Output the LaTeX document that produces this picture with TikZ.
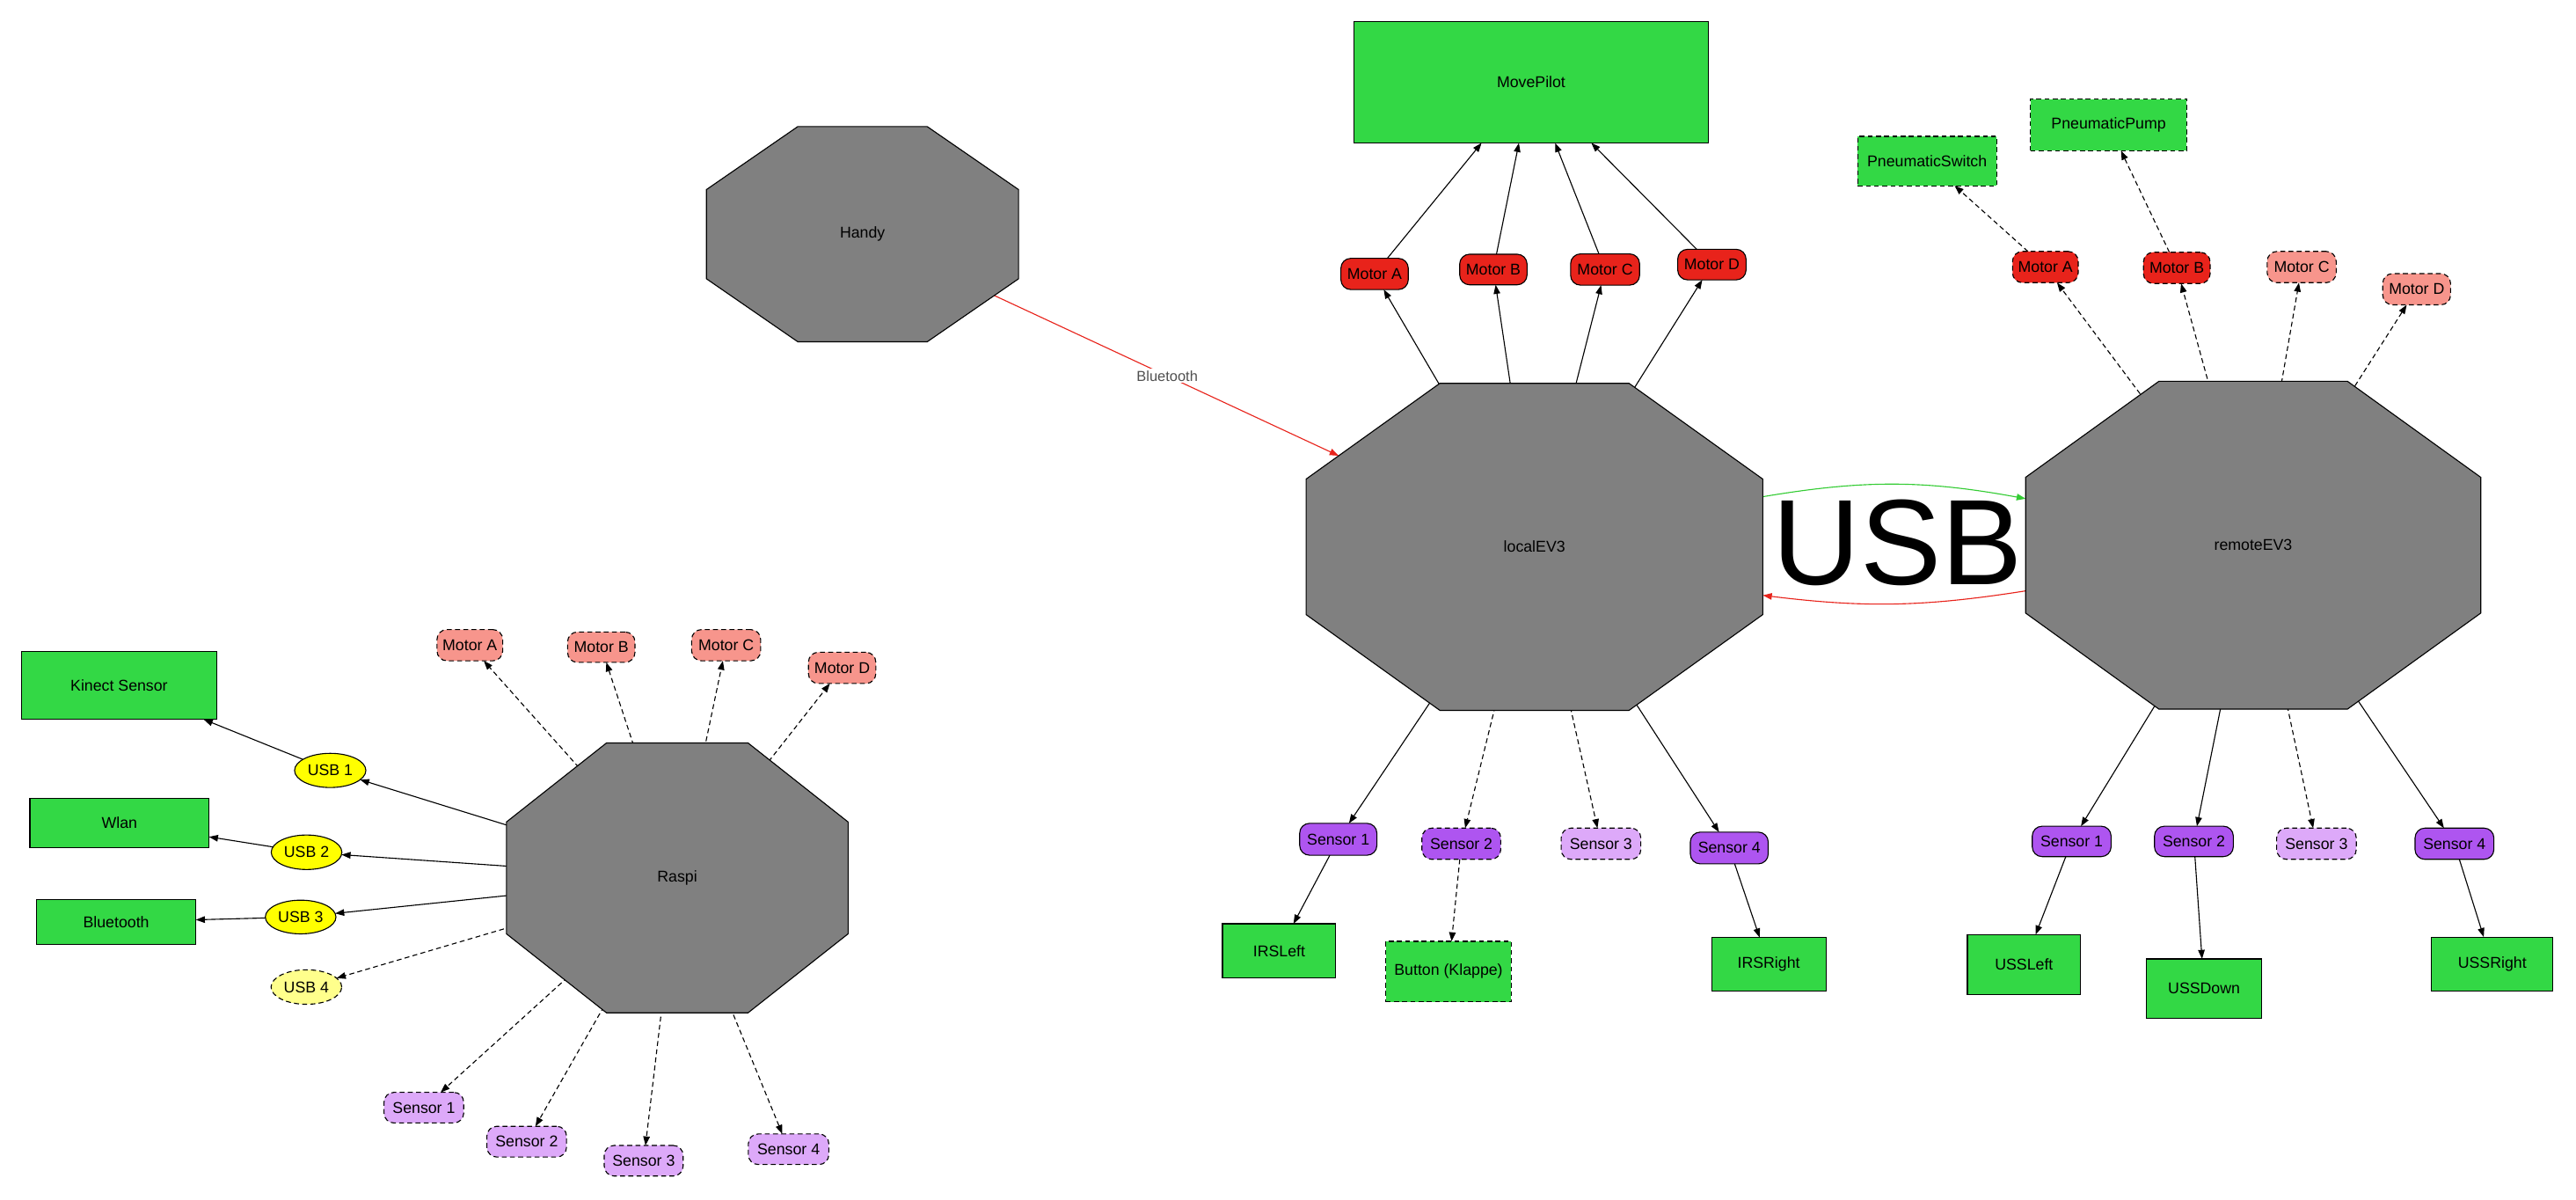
\documentclass[tikz,border=0pt]{standalone}
\usepackage{fontspec}
\setmainfont{Liberation Sans}
\usetikzlibrary{arrows.meta,calc,shapes.geometric}
\definecolor{ngreen}{HTML}{33D845}
\definecolor{nred}{HTML}{E8231B}
\definecolor{nsalmon}{HTML}{F7958C}
\definecolor{npurple}{HTML}{AE55F0}
\definecolor{nlpurple}{HTML}{DDA9F9}
\definecolor{nyellow}{HTML}{FFFF00}
\definecolor{nlyellow}{HTML}{FFFF8C}
\definecolor{octgray}{HTML}{808080}
\definecolor{usbgreen}{HTML}{33CC33}
\definecolor{lblgray}{HTML}{505050}
\pgfdeclarelayer{bglayer}
\pgfdeclarelayer{edgelayer}
\pgfdeclarelayer{octlayer}
\pgfsetlayers{bglayer,edgelayer,octlayer,main}
\newcommand\octshape[1]{%
  \coordinate (#1-t1) at ($(#1.north west)!0.2929!(#1.north east)$);
  \coordinate (#1-t2) at ($(#1.north east)!0.2929!(#1.north west)$);
  \coordinate (#1-r1) at ($(#1.north east)!0.2929!(#1.south east)$);
  \coordinate (#1-r2) at ($(#1.south east)!0.2929!(#1.north east)$);
  \coordinate (#1-b2) at ($(#1.south east)!0.2929!(#1.south west)$);
  \coordinate (#1-b1) at ($(#1.south west)!0.2929!(#1.south east)$);
  \coordinate (#1-l2) at ($(#1.south west)!0.2929!(#1.north west)$);
  \coordinate (#1-l1) at ($(#1.north west)!0.2929!(#1.south west)$);
  \begin{pgfonlayer}{octlayer}
  \fill[octgray, draw=black, line width=0.6pt, line join=miter] (#1-t1) -- (#1-t2) -- (#1-r1) -- (#1-r2) -- (#1-b2) -- (#1-b1) -- (#1-l2) -- (#1-l1) -- cycle;
  \end{pgfonlayer}}
\tikzset{
  base/.style={draw=black, line width=0.6pt, inner sep=0pt, outer sep=0pt, align=center},
  dashpat/.style={dash pattern=on 3pt off 2pt},
  sz/.style 2 args={minimum width=#1pt, minimum height=#2pt},
  gbox/.style={base, rectangle, fill=ngreen},
  gboxd/.style={gbox, dashpat},
  pill/.style={base, rectangle, rounded corners=6pt},
  mred/.style={pill, fill=nred},
  mredd/.style={pill, fill=nred, dashpat},
  msal/.style={pill, fill=nsalmon, dashpat},
  spur/.style={pill, fill=npurple},
  spurd/.style={pill, fill=npurple, dashpat},
  slpur/.style={pill, fill=nlpurple, dashpat},
  usbe/.style={base, ellipse, fill=nyellow},
  usbed/.style={base, ellipse, fill=nlyellow, dashpat},
  octnode/.style={rectangle, inner sep=0pt, outer sep=0pt},
  edge/.style={line width=0.6pt, -{Triangle[length=5.5pt,width=4pt]}},
  dedge/.style={edge, dashpat},
}
\begin{document}
\begin{tikzpicture}[x=1pt, y=-1pt, font=\fontsize{9.5}{11}\selectfont]
\useasboundingbox (0,0) rectangle (1568,730);
\begin{pgfonlayer}{bglayer}
\fill[white] (0,0) rectangle (1568,730);
\end{pgfonlayer}

% ---------------- octagon nodes
\node[octnode, sz={208}{164.2}] (raspi) at (412.25,534.2) {Raspi};
\node[octnode, sz={190}{131}] (handy) at (525,142.5) {Handy};
\node[octnode, sz={278}{199}] (localev3) at (934,332.75) {localEV3};
\node[octnode, sz={277}{199.5}] (remotev3) at (1371.5,331.75) {remoteEV3};
\octshape{raspi}
\octshape{handy}
\octshape{localev3}
\octshape{remotev3}

% ---------------- left cluster
\node[gbox, sz={119}{41.5}] (kinect) at (72.5,417) {Kinect Sensor};
\node[gbox, sz={109}{30}] (wlan) at (72.7,500.6) {Wlan};
\node[gbox, sz={97}{27.5}] (bluetooth) at (70.7,561) {Bluetooth};
\node[usbe, sz={43.4}{20.8}] (usb1) at (201,468.8) {USB 1};
\node[usbe, sz={43}{21}] (usb2) at (186.6,518.6) {USB 2};
\node[usbe, sz={43}{20.5}] (usb3) at (183,558) {USB 3};
\node[usbed, sz={43}{21}] (usb4) at (186.5,600.6) {USB 4};
\node[msal, sz={40}{19}] (rmA) at (286,392.6) {Motor A};
\node[msal, sz={41}{18.5}] (rmB) at (366,393.8) {Motor B};
\node[msal, sz={42}{19}] (rmC) at (442,392.6) {Motor C};
\node[msal, sz={41}{19}] (rmD) at (512.6,406.4) {Motor D};
\node[slpur, sz={48.5}{18.6}] (rs1) at (258,674) {Sensor 1};
\node[slpur, sz={48.5}{18.7}] (rs2) at (320.6,694.7) {Sensor 2};
\node[slpur, sz={48}{18.6}] (rs3) at (391.8,706.3) {Sensor 3};
\node[slpur, sz={49}{18.6}] (rs4) at (480,699.3) {Sensor 4};

% ---------------- localEV3 cluster
\node[gbox, sz={216}{74}] (movepilot) at (932,50) {MovePilot};
\node[mred, sz={41}{19}] (lmA) at (836.7,166.7) {Motor A};
\node[mred, sz={41}{18.6}] (lmB) at (909,164) {Motor B};
\node[mred, sz={42}{19}] (lmC) at (977,164) {Motor C};
\node[mred, sz={41.6}{18.6}] (lmD) at (1042,161) {Motor D};
\node[spur, sz={47}{19.4}] (ls1) at (814.6,510.7) {Sensor 1};
\node[spurd, sz={48}{19}] (ls2) at (889.5,513.4) {Sensor 2};
\node[slpur, sz={48.5}{19}] (ls3) at (974.5,513.4) {Sensor 3};
\node[spur, sz={47.4}{19.3}] (ls4) at (1052.6,516) {Sensor 4};
\node[gbox, sz={69}{33}] (irsleft) at (778.6,578.6) {IRSLeft};
\node[gboxd, sz={76.5}{36.8}] (button) at (881.7,591.2) {Button (Klappe)};
\node[gbox, sz={69.6}{32.7}] (irsright) at (1076.6,586.8) {IRSRight};

% ---------------- remoteEV3 cluster
\node[gboxd, sz={84.6}{30}] (pswitch) at (1173,98) {PneumaticSwitch};
\node[gboxd, sz={95}{31.5}] (ppump) at (1283.5,76) {PneumaticPump};
\node[mredd, sz={40}{19}] (qmA) at (1245,162.5) {Motor A};
\node[mredd, sz={40.6}{19}] (qmB) at (1325,163) {Motor B};
\node[msal, sz={42}{19}] (qmC) at (1401,162.5) {Motor C};
\node[msal, sz={41.3}{19}] (qmD) at (1471,176) {Motor D};
\node[spur, sz={48}{18.5}] (qs1) at (1261,512) {Sensor 1};
\node[spur, sz={48}{18.5}] (qs2) at (1335.4,512) {Sensor 2};
\node[slpur, sz={48.5}{19}] (qs3) at (1410,513.4) {Sensor 3};
\node[spur, sz={48}{19}] (qs4) at (1494,513.4) {Sensor 4};
\node[gbox, sz={69}{36.6}] (ussleft) at (1232,587) {USSLeft};
\node[gbox, sz={70}{36}] (ussdown) at (1341.6,601.5) {USSDown};
\node[gbox, sz={73.8}{33}] (ussright) at (1517,586.7) {USSRight};

% ---------------- big label
\node[inner sep=0pt, font=\fontsize{74}{80}\selectfont] (usbtext) at (1155,330) {USB};

% ---------------- connectors
\coordinate (btend) at (intersection of handy.center--localev3.center and localev3-l1--localev3-t1);
\begin{pgfonlayer}{edgelayer}
% left
\draw[edge] (raspi.center) -- (usb1);
\draw[edge] (usb1) -- (kinect);
\draw[edge] (raspi.center) -- (usb2);
\draw[edge] (usb2) -- (wlan);
\draw[edge] (raspi.center) -- (usb3);
\draw[edge] (usb3) -- (bluetooth);
\draw[dedge] (raspi.center) -- (usb4);
\draw[dedge] (raspi.center) -- (rmA);
\draw[dedge] (raspi.center) -- (rmB);
\draw[dedge] (raspi.center) -- (rmC);
\draw[dedge] (raspi.center) -- (rmD);
\draw[dedge] (raspi.center) -- (rs1);
\draw[dedge] (raspi.center) -- (rs2);
\draw[dedge] (raspi.center) -- (rs3);
\draw[dedge] (raspi.center) -- (rs4);
% handy
\draw[edge, nred] (handy.center) -- node[pos=0.64, fill=white, inner sep=1pt, text=lblgray, font=\fontsize{8.8}{10}\selectfont] (btlabel) {Bluetooth} (btend);
% local
\draw[edge] (localev3.center) -- (lmA);
\draw[edge] (localev3.center) -- (lmB);
\draw[edge] (localev3.center) -- (lmC);
\draw[edge] (localev3.center) -- (lmD);
\draw[edge] (lmA) -- (movepilot);
\draw[edge] (lmB) -- (movepilot);
\draw[edge] (lmC) -- (movepilot);
\draw[edge] (lmD) -- (movepilot);
\draw[edge] (localev3.center) -- (ls1);
\draw[dedge] (localev3.center) -- (ls2);
\draw[dedge] (localev3.center) -- (ls3);
\draw[edge] (localev3.center) -- (ls4);
\draw[edge] (ls1) -- (irsleft);
\draw[dedge] (ls2) -- (button);
\draw[edge] (ls4) -- (irsright);
% remote
\draw[dedge] (remotev3.center) -- (qmA);
\draw[dedge] (remotev3.center) -- (qmB);
\draw[dedge] (remotev3.center) -- (qmC);
\draw[dedge] (remotev3.center) -- (qmD);
\draw[dedge] (qmA) -- (pswitch);
\draw[dedge] (qmB) -- (ppump);
\draw[edge] (remotev3.center) -- (qs1);
\draw[edge] (remotev3.center) -- (qs2);
\draw[dedge] (remotev3.center) -- (qs3);
\draw[edge] (remotev3.center) -- (qs4);
\draw[edge] (qs1) -- (ussleft);
\draw[edge] (qs2) -- (ussdown);
\draw[edge] (qs4) -- (ussright);
% USB link
\draw[edge, usbgreen] ([yshift=30.5pt]localev3.east) to[bend left=10] ([yshift=28.3pt]remotev3.west);
\draw[edge, nred] ([yshift=-27.8pt]remotev3.west) to[bend left=8] ([yshift=-29.5pt]localev3.east);
\end{pgfonlayer}
\end{tikzpicture}
\end{document}
